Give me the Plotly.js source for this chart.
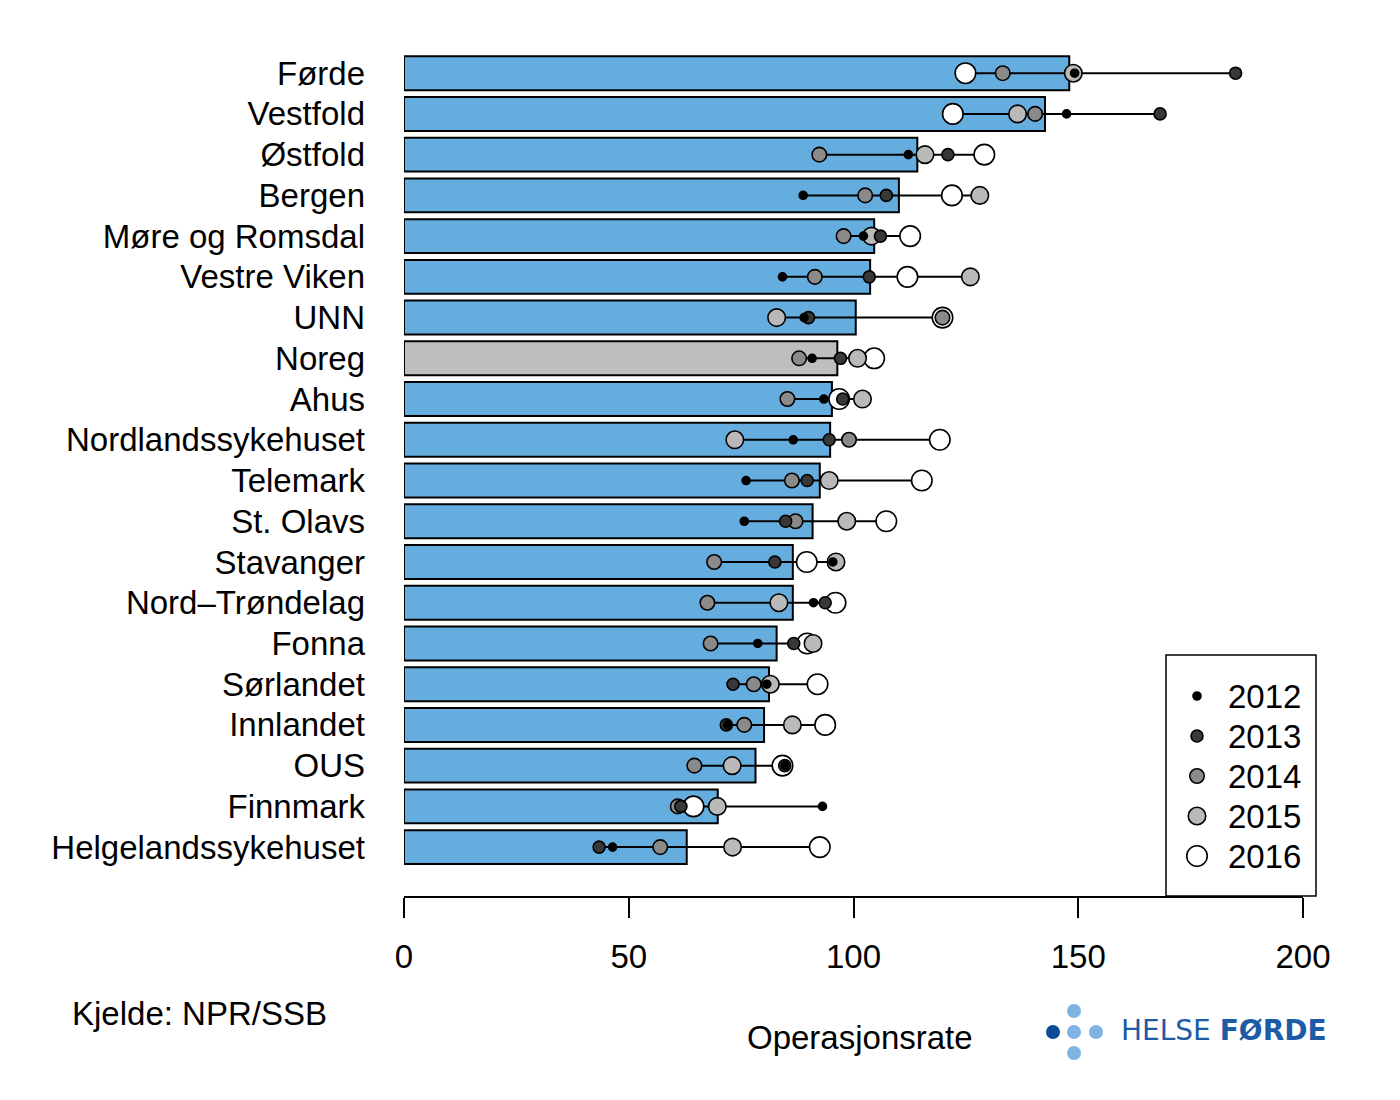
<!DOCTYPE html>
<html>
<head>
<meta charset="utf-8">
<script src="https://cdn.plot.ly/plotly-3.0.1.min.js"></script>
<style>html,body{margin:0;padding:0;background:#fff;}#chart{width:1400px;height:1100px;}</style>
</head>
<body>
<div id="chart"></div>
<script>
// ---- data ----
const categories = ['Førde','Vestfold','Østfold','Bergen','Møre og Romsdal','Vestre Viken','UNN','Noreg','Ahus','Nordlandssykehuset','Telemark','St. Olavs','Stavanger','Nord–Trøndelag','Fonna','Sørlandet','Innlandet','OUS','Finnmark','Helgelandssykehuset'];
const rate   = [148.0,142.6,114.2,110.1,104.6,103.7,100.5,96.4,95.2,94.8,92.5,90.9,86.5,86.5,82.9,81.2,80.1,78.2,69.8,62.9];
const y2012  = [149.2,147.4,112.2,88.8,102.2,84.2,89.0,90.8,93.4,86.6,76.1,75.7,95.4,91.1,78.7,80.7,72.0,84.8,93.1,46.4];
const y2013  = [185.0,168.2,121.0,107.3,106.0,103.5,90.0,97.1,97.6,94.6,89.7,84.9,82.5,93.7,86.7,73.2,71.7,84.7,61.6,43.4];
const y2014  = [133.2,140.4,92.4,102.6,97.8,91.4,119.8,87.9,85.3,99.0,86.3,87.1,69.0,67.5,68.2,77.8,75.7,64.6,60.9,57.0];
const y2015  = [148.9,136.5,115.9,128.1,104.0,126.0,82.9,100.9,102.0,73.6,94.6,98.5,96.1,83.4,91.0,81.5,86.4,73.0,69.7,73.1];
const y2016  = [124.9,122.1,129.1,121.9,112.6,112.0,119.8,104.6,96.8,119.2,115.2,107.3,89.6,96.0,89.7,92.0,93.7,84.2,64.4,92.5];
const years  = ['2012','2013','2014','2015','2016'];
const xTicks = [0,50,100,150,200];
const nationalName = 'Noreg';

// ---- styling ----
const FONT = 'Liberation Sans, Arial, Helvetica, sans-serif';
const series = [y2012,y2013,y2014,y2015,y2016];
const fills  = ['#000000','#383838','#8a8a8a','#b9b9b9','#ffffff'];
const sizes  = [8,12,14.5,17.5,20.5];

const traces = [];
traces.push({
  type:'bar', orientation:'h', x:rate, y:categories,
  marker:{color:categories.map(c=>c===nationalName?'#BEBEBE':'#65ACDF'), line:{color:'#000',width:2}},
  showlegend:false, hoverinfo:'skip', cliponaxis:false
});
// range lines min-max
const lx=[], ly=[];
categories.forEach((c,i)=>{
  const vals = series.map(s=>s[i]);
  lx.push(Math.min(...vals), Math.max(...vals), null);
  ly.push(c,c,null);
});
traces.push({type:'scatter', mode:'lines', x:lx, y:ly, line:{color:'#000',width:2}, showlegend:false, hoverinfo:'skip', cliponaxis:false});
// points: draw 2016 first, 2012 last
for (let k=4;k>=0;k--){
  traces.push({
    type:'scatter', mode:'markers', name:years[k], x:series[k], y:categories,
    marker:{color:fills[k], size:sizes[k], line:{color:'#000',width:1.6}},
    cliponaxis:false, hoverinfo:'skip', showlegend:false
  });
}

const L=404, R=1303, T=52, B=896;
const px=x=>(x-L)/(R-L), py=y=>(B-y)/(B-T);

const annotations = [
  {text:'Operasjonsrate', xref:'paper', yref:'paper', x:px(860), y:py(1037), xanchor:'center', yanchor:'middle', showarrow:false, font:{size:33,family:FONT}},
  {text:'Kjelde: NPR/SSB', xref:'paper', yref:'paper', x:px(70), y:py(1013), xanchor:'left', yanchor:'middle', showarrow:false, font:{size:33,family:FONT}},
  {text:'HELSE <b>FØRDE</b>', xref:'paper', yref:'paper', x:px(1119), y:py(1030), xanchor:'left', yanchor:'middle', showarrow:false, font:{size:28,family:'DejaVu Sans, sans-serif', color:'#1d5ba6'}}
];

const logoDots = [[1053,1032,'#0b4a97'],[1074,1011,'#7db4e3'],[1074,1032,'#7db4e3'],[1096,1032,'#7db4e3'],[1074,1053,'#7db4e3']];
const shapes = [{
  type:'rect', xref:'paper', yref:'paper', x0:px(1166), x1:px(1316), y0:0, y1:py(655),
  line:{color:'#000',width:1.5}, fillcolor:'rgba(0,0,0,0)'
}];
logoDots.forEach(d=>shapes.push({
  type:'circle', xref:'paper', yref:'paper', xsizemode:'pixel', ysizemode:'pixel',
  xanchor:px(d[0]), yanchor:py(d[1]), x0:-7, x1:7, y0:-7, y1:7,
  fillcolor:d[2], line:{width:0}
}));
// legend keys (drawn manually to match spacing)
years.forEach((yr,k)=>{
  const cy = 696 + 40*k;
  const r = (sizes[k]+1.6)/2;
  shapes.push({
    type:'circle', xref:'paper', yref:'paper', xsizemode:'pixel', ysizemode:'pixel',
    xanchor:px(1197), yanchor:py(cy), x0:-r+0.8, x1:r-0.8, y0:-r+0.8, y1:r-0.8,
    fillcolor:fills[k], line:{color:'#000',width:1.6}
  });
  annotations.push({text:yr, xref:'paper', yref:'paper', x:px(1226), y:py(cy), xanchor:'left', yanchor:'middle', showarrow:false, font:{size:33,family:FONT}});
});

const layout = {
  width:1400, height:1100,
  margin:{l:L, r:1400-R, t:T, b:1100-B, pad:0},
  paper_bgcolor:'#fff', plot_bgcolor:'#fff',
  font:{family:FONT, size:33, color:'#000'},
  bargap:0.167,
  showlegend:false,
  xaxis:{range:[0,200], tickvals:xTicks, ticktext:xTicks.map(String), showgrid:false, zeroline:false,
         showline:true, linecolor:'#000', linewidth:2, ticks:'outside', ticklen:20, tickwidth:2, tickcolor:'#000',
         ticklabelstandoff:10, tickfont:{size:33,family:FONT}, fixedrange:true},
  yaxis:{type:'category', categoryarray:categories, range:[20.2,-0.52], showgrid:false, zeroline:false,
         showline:false, ticks:'', ticklabelstandoff:38, tickfont:{size:33,family:FONT}, fixedrange:true},
  shapes:shapes,
  annotations:annotations
};
Plotly.newPlot('chart', traces, layout, {staticPlot:true, displayModeBar:false});
</script>
</body>
</html>
